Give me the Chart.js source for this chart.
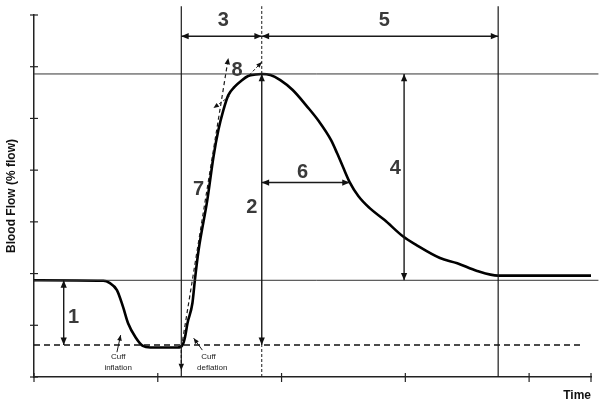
<!DOCTYPE html>
<html>
<head>
<meta charset="utf-8">
<script src="https://cdn.jsdelivr.net/npm/chart.js@4.4.1/dist/chart.umd.min.js"></script>
<style>
  body { margin: 0; background: #fff; }
  canvas { display: block; }
</style>
</head>
<body>
<canvas id="flowCanvas" width="600" height="405"></canvas>
<script>
// Flow curve (time in tick units, flow in tick units)
const timePts = [0, 0.56, 0.61, 0.67, 0.72, 0.76, 0.82, 0.88, 0.94, 1.16, 1.2, 1.22, 1.24, 1.28, 1.3, 1.33,
  1.4, 1.45, 1.49, 1.53, 1.57, 1.62, 1.68, 1.73, 1.79, 1.84, 1.91, 1.99, 2.09, 2.21, 2.3, 2.4,
  2.45, 2.5, 2.55, 2.62, 2.71, 2.83, 2.98, 3.09, 3.28, 3.42, 3.58, 3.75, 3.93, 4.5];
const flowPts = [1.87, 1.86, 1.82, 1.68, 1.35, 1.04, 0.77, 0.6, 0.57, 0.57, 0.62, 0.77, 1.04, 1.43, 1.88, 2.46,
  3.42, 4.26, 4.78, 5.16, 5.45, 5.61, 5.74, 5.82, 5.85, 5.86, 5.84, 5.74, 5.55, 5.22, 4.95, 4.58,
  4.32, 4.04, 3.77, 3.5, 3.27, 3.04, 2.72, 2.55, 2.3, 2.2, 2.05, 1.96, 1.96, 1.96];

// reference levels and times
const baselineFlow = 1.87;
const occludedFlow = 0.62;
const peakFlow = 5.86;
const deflateTime = 1.19;
const peakTime = 1.84;
const recoveryTime = 3.75;
const halfTime = 2.55;

const markerLabels = ['1', '2', '3', '4', '5', '6', '7', '8'];
const markerX = [0.32, 1.76, 1.53, 2.92, 2.83, 2.17, 1.33, 1.64];
const markerY = [1.16, 3.27, 6.9, 4.04, 6.9, 3.96, 3.62, 5.92];

const X_MAX = 4.5;
const Y_MAX = 7;
const TOP = 7.17;      // vertical lines run a bit above the plot
const LINE_END = 4.56; // horizontal guides run a bit past the axis
const SPAN_Y = 6.59;   // level of arrows 3 and 5
const DUR_Y = 3.76;    // level of arrow 6

function arrowHead(ctx, x1, y1, x2, y2, size) {
  const a = Math.atan2(y2 - y1, x2 - x1);
  ctx.save();
  ctx.setLineDash([]);
  ctx.beginPath();
  ctx.moveTo(x2, y2);
  ctx.lineTo(x2 - size * Math.cos(a - 0.4), y2 - size * Math.sin(a - 0.4));
  ctx.lineTo(x2 - size * Math.cos(a + 0.4), y2 - size * Math.sin(a + 0.4));
  ctx.closePath();
  ctx.fill();
  ctx.restore();
}

const annotations = {
  id: 'annotations',
  afterDatasetsDraw(chart) {
    const { ctx } = chart;
    const sx = chart.scales.x, sy = chart.scales.y;
    const px = v => sx.getPixelForValue(v);
    const py = v => sy.getPixelForValue(v);

    function line(x1, y1, x2, y2, width, dash, color) {
      ctx.save();
      ctx.strokeStyle = color || '#1a1a1a';
      ctx.lineWidth = width;
      ctx.setLineDash(dash || []);
      ctx.beginPath();
      ctx.moveTo(px(x1), py(y1));
      ctx.lineTo(px(x2), py(y2));
      ctx.stroke();
      ctx.restore();
    }
    function arrow(x1, y1, x2, y2, opts) {
      const o = opts || {};
      line(x1, y1, x2, y2, o.width || 1.4, o.dash);
      ctx.fillStyle = '#111';
      arrowHead(ctx, px(x1), py(y1), px(x2), py(y2), o.head || 8);
      if (o.both) arrowHead(ctx, px(x2), py(y2), px(x1), py(y1), o.head || 8);
    }

    // axis ticks crossing the axes
    ctx.save();
    ctx.strokeStyle = '#222';
    ctx.lineWidth = 1.2;
    sy.ticks.forEach(t => {
      ctx.beginPath();
      ctx.moveTo(px(0) - 4, py(t.value));
      ctx.lineTo(px(0) + 4, py(t.value));
      ctx.stroke();
    });
    sx.ticks.forEach(t => {
      ctx.beginPath();
      ctx.moveTo(px(t.value), py(0) - 4);
      ctx.lineTo(px(t.value), py(0) + 5);
      ctx.stroke();
    });
    ctx.restore();

    // guide lines
    line(0, peakFlow, LINE_END, peakFlow, 1, [], '#333');
    line(0, baselineFlow, LINE_END, baselineFlow, 1, [], '#333');
    line(0, occludedFlow, 4.44, occludedFlow, 1.5, [6, 4], '#111');
    line(deflateTime, 0, deflateTime, TOP, 1.2);
    line(recoveryTime, 0, recoveryTime, TOP, 1.2);
    line(peakTime, peakFlow, peakTime, TOP, 1, [3, 2]);
    line(peakTime, 0, peakTime, occludedFlow, 1, [3, 2]);

    // measurement arrows
    arrow(deflateTime, SPAN_Y, peakTime, SPAN_Y, { both: true });
    arrow(peakTime, SPAN_Y, recoveryTime, SPAN_Y, { both: true });
    arrow(2.99, peakFlow, 2.99, baselineFlow, { both: true });
    arrow(peakTime, DUR_Y, halfTime, DUR_Y, { both: true });
    arrow(0.24, baselineFlow, 0.24, occludedFlow, { both: true });
    arrow(peakTime, peakFlow, peakTime, occludedFlow, { both: true });

    // dashed slope arrows
    arrow(1.2, 0.7, 1.57, 6.17, { dash: [4, 3], width: 1.2, head: 7 });
    arrow(1.58, 5.43, 1.45, 5.2, { dash: [3, 2], width: 1, head: 6 });
    arrow(1.74, 5.84, 1.84, 6.09, { dash: [3, 2], width: 1, head: 6 });
    arrow(deflateTime, occludedFlow, deflateTime, 0.13, { dash: [3, 2], width: 1.2, head: 7 });

    // cuff pointers
    arrow(0.67, 0.48, 0.7, 0.81, { width: 1, head: 6 });
    arrow(1.36, 0.52, 1.29, 0.75, { width: 1, head: 6 });

    // numbers
    ctx.save();
    ctx.fillStyle = '#3a3a3a';
    ctx.font = 'bold 20px "Liberation Sans", Arial, sans-serif';
    ctx.textAlign = 'center';
    ctx.textBaseline = 'middle';
    markerLabels.forEach((t, i) => ctx.fillText(t, px(markerX[i]), py(markerY[i])));

    ctx.fillStyle = '#222';
    ctx.font = '8px "Liberation Sans", Arial, sans-serif';
    ctx.fillText('Cuff', px(0.68), py(0.39));
    ctx.fillText('inflation', px(0.68), py(0.17));
    ctx.fillText('Cuff', px(1.41), py(0.39));
    ctx.fillText('deflation', px(1.44), py(0.17));
    ctx.restore();
  }
};

const titleFont = { family: '"Liberation Sans", Arial, sans-serif', size: 12, weight: 'bold' };

new Chart(document.getElementById('flowCanvas').getContext('2d'), {
  type: 'scatter',
  data: {
    datasets: [{
      data: timePts.map((t, i) => ({ x: t, y: flowPts[i] })),
      showLine: true,
      borderColor: '#000',
      borderWidth: 2.6,
      pointRadius: 0,
      cubicInterpolationMode: 'monotone',
      clip: false
    }]
  },
  options: {
    responsive: false,
    animation: false,
    layout: { padding: { left: 4.6, right: 9, top: 15, bottom: 0.6 } },
    plugins: { legend: { display: false }, tooltip: { enabled: false } },
    scales: {
      x: {
        type: 'linear', min: 0, max: X_MAX,
        ticks: { display: false, stepSize: 1 },
        grid: { display: false, drawTicks: false },
        border: { display: true, color: '#222', width: 1.5 },
        title: { display: true, text: 'Time', align: 'end', color: '#111', font: titleFont, padding: { top: 11, bottom: 2 } }
      },
      y: {
        type: 'linear', min: 0, max: Y_MAX,
        ticks: { display: false, stepSize: 1 },
        grid: { display: false, drawTicks: false },
        border: { display: true, color: '#222', width: 1.5 },
        title: { display: true, text: 'Blood Flow (% flow)', color: '#111', font: titleFont, padding: { top: 0, bottom: 15 } }
      }
    }
  },
  plugins: [annotations]
});
</script>
</body>
</html>
